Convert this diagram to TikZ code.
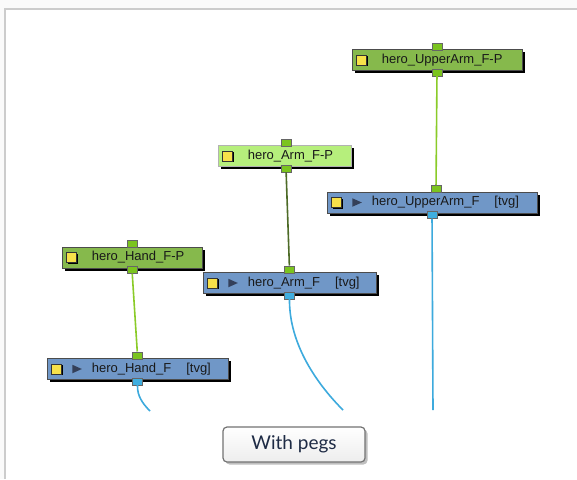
\documentclass[tikz,border=0pt]{standalone}
\usepackage{fontspec}
\setmainfont{Liberation Sans}
\newfontfamily\btnfont{Lato}
\usetikzlibrary{shadows,shapes.geometric}
\definecolor{pegGreen}{HTML}{86B94C}
\definecolor{pegLight}{HTML}{B6EF7C}
\definecolor{tvgBlue}{HTML}{7097C7}
\definecolor{portGreen}{HTML}{7BC41F}
\definecolor{portBlue}{HTML}{3FAEE0}
\definecolor{wireGreen}{HTML}{8ACB28}
\definecolor{wireDark}{HTML}{4D6B27}
\definecolor{wireBlue}{HTML}{3DAADD}
\definecolor{iconYellow}{HTML}{F7E14A}
\definecolor{playDark}{HTML}{34405A}
\definecolor{btnText}{HTML}{1E2B45}
\begin{document}
\begin{tikzpicture}[
  x=1pt, y=-1pt,
  box/.style={draw=black!70, line width=0.8pt, minimum height=21pt, inner sep=0pt,
    drop shadow={shadow xshift=2.5pt, shadow yshift=-2.5pt, fill=black, opacity=1}},
  pnode/.style={box, fill=pegGreen},
  tvgnode/.style={box, fill=tvgBlue},
  port/.style={draw=black!60, line width=0.6pt, minimum width=10pt, minimum height=7pt, inner sep=0pt},
  inport/.style={port, fill=portGreen},
  outport/.style={port, fill=portBlue},
  icon/.style={draw=black!80, line width=0.9pt, fill=iconYellow, minimum size=10pt, inner sep=0pt,
    drop shadow={shadow xshift=1.2pt, shadow yshift=-1.2pt, fill=black, opacity=1}},
  play/.style={isosceles triangle, isosceles triangle stretches, fill=playDark,
    minimum width=8.5pt, minimum height=9.5pt, inner sep=0pt},
  nodetext/.style={anchor=west, inner sep=0pt, text=black!90, font=\fontsize{13}{15}\selectfont},
  wire/.style={line width=1.6pt}
]
  \useasboundingbox (0,0) rectangle (577,479);
  % Pozadi
  \fill[black!2] (0,0) rectangle (577,479);
  \fill[white] (5,9) rectangle (577,479);
  \draw[black!20, line width=2pt] (5,479) -- (5,9) -- (577,9);

  % Nadloktí
  \node[pnode, minimum width=170pt] (uaPeg) at (437,60) {};
  \node[icon] (uaPegIcon) at ([xshift=10pt]uaPeg.west) {};
  \node[nodetext] (uaPegText) at ([xshift=30pt]uaPeg.west) {hero\_UpperArm\_F-P};
  \node[inport, anchor=south] (uaPegIn) at ([yshift=-1pt]uaPeg.north) {};
  \node[inport] (uaPegOut) at ([yshift=-1.5pt]uaPeg.south) {};

  \node[tvgnode, minimum width=210pt] (ua) at (432,202.5) {};
  \node[icon] (uaIcon) at ([xshift=10pt]ua.west) {};
  \node[play] (uaPlay) at ([xshift=28.5pt]ua.west) {};
  \node[nodetext] (uaText) at ([xshift=45pt]ua.west) {hero\_UpperArm\_F\hspace{15pt}[tvg]};
  \node[inport, anchor=south] (uaIn) at ([yshift=-1pt,xshift=4pt]ua.north) {};
  \node[outport] (uaOut) at ([yshift=-1.5pt]ua.south) {};

  % Paze
  \node[box, fill=pegLight, draw=black!30, drop shadow={opacity=0}, minimum width=133pt] (armPeg) at (284.5,156) {};
  \node[icon] (armPegIcon) at ([xshift=10pt]armPeg.west) {};
  \node[nodetext] (armPegText) at ([xshift=30pt]armPeg.west) {hero\_Arm\_F-P};
  \node[inport, anchor=south] (armPegIn) at ([yshift=-1pt,xshift=1.5pt]armPeg.north) {};
  \node[inport] (armPegOut) at ([yshift=-1.5pt,xshift=1.5pt]armPeg.south) {};

  \node[tvgnode, minimum width=173pt] (arm) at (289.5,283) {};
  \node[icon] (armIcon) at ([xshift=10pt]arm.west) {};
  \node[play] (armPlay) at ([xshift=28.5pt]arm.west) {};
  \node[nodetext] (armText) at ([xshift=45pt]arm.west) {hero\_Arm\_F\hspace{15pt}[tvg]};
  \node[inport, anchor=south] (armIn) at ([yshift=-1pt]arm.north) {};
  \node[outport] (armOut) at ([yshift=-1.5pt]arm.south) {};

  % Ruka
  \node[pnode, minimum width=140pt] (handPeg) at (132,257.5) {};
  \node[icon] (handPegIcon) at ([xshift=10pt]handPeg.west) {};
  \node[nodetext] (handPegText) at ([xshift=30pt]handPeg.west) {hero\_Hand\_F-P};
  \node[inport, anchor=south] (handPegIn) at ([yshift=-1pt]handPeg.north) {};
  \node[inport] (handPegOut) at ([yshift=-1.5pt]handPeg.south) {};

  \node[tvgnode, minimum width=181pt] (hand) at (137.5,369) {};
  \node[icon] (handIcon) at ([xshift=10pt]hand.west) {};
  \node[play] (handPlay) at ([xshift=28.5pt]hand.west) {};
  \node[nodetext] (handText) at ([xshift=45pt]hand.west) {hero\_Hand\_F\hspace{15pt}[tvg]};
  \node[inport, anchor=south] (handIn) at ([yshift=-1pt]hand.north) {};
  \node[outport] (handOut) at ([yshift=-1.5pt]hand.south) {};

  % Spoje
  \draw[wire, wireGreen] (uaPegOut) -- (uaIn);
  \draw[wire, wireDark] (armPegOut) -- (armIn);
  \draw[wire, wireGreen] (handPegOut) -- (handIn);

  \coordinate (uaEnd) at (433,410);
  \coordinate (armEnd) at (343,410);
  \coordinate (handEnd) at (150,411);
  \draw[wire, wireBlue] (uaOut) -- (uaEnd);
  \draw[wire, wireBlue] (armOut.south) .. controls (289,345) and (318,385) .. (armEnd);
  \draw[wire, wireBlue] (handOut.south) .. controls (137,396) and (143,404) .. (handEnd);

  % Tlacitko
  \node[draw=black!55, line width=1.2pt, rounded corners=4pt, top color=white, bottom color=black!7,
    minimum width=142pt, minimum height=35pt, text=btnText, font=\btnfont\fontsize{19}{22}\selectfont,
    drop shadow={shadow xshift=2.5pt, shadow yshift=-2.5pt, fill=black, opacity=0.25}] (withPegs) at (294,444.5) {With pegs};
\end{tikzpicture}
\end{document}
